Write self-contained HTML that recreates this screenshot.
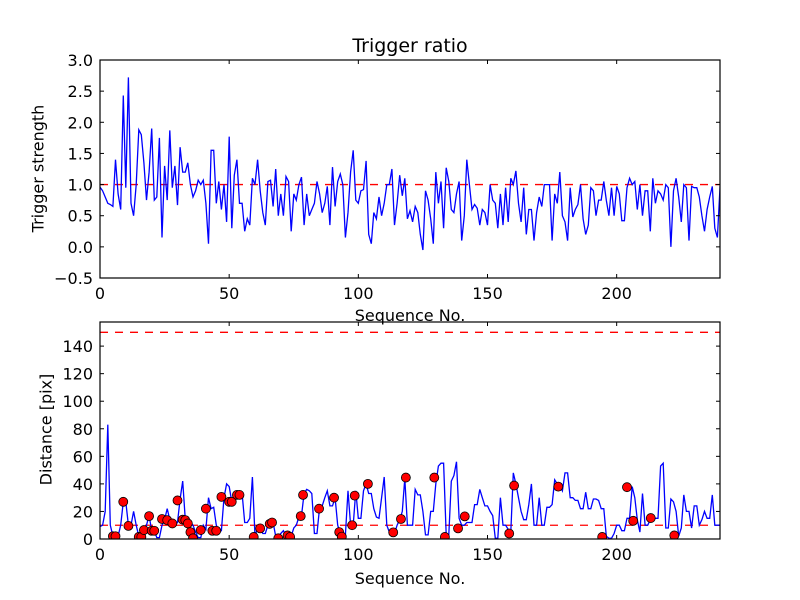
<!DOCTYPE html>
<html><head><meta charset="utf-8"><style>
body{margin:0;background:#fff;}
svg{display:block;font-family:"DejaVu Sans","Liberation Sans",sans-serif;}
</style></head><body>
<svg id="chart" width="800" height="600"></svg>
<script>
const topValues=[0.96,0.9,0.8,0.7,0.68,0.65,1.4,0.85,0.6,2.43,0.95,2.72,0.7,0.5,1.0,1.88,1.8,1.35,0.75,1.2,1.9,0.75,0.8,1.75,0.15,1.3,0.75,1.87,0.95,1.3,0.67,1.6,1.2,1.2,1.35,1.0,0.8,0.9,1.07,1.0,1.07,0.7,0.05,1.55,1.55,0.7,1.05,0.6,1.0,0.4,1.77,0.3,1.15,1.4,0.7,0.7,0.25,0.45,0.35,1.1,1.0,1.4,
0.9,0.55,0.35,1.05,1.07,0.65,1.25,0.5,0.85,0.5,1.13,1.05,0.25,0.85,0.75,1.0,1.12,0.35,0.85,0.5,0.6,0.7,1.05,0.85,0.55,0.7,0.97,0.35,1.28,0.65,1.05,1.17,1.0,0.15,0.55,1.2,1.55,0.75,0.7,0.9,0.92,1.38,0.2,0.05,0.55,0.45,0.8,0.5,0.7,1.0,1.0,1.25,0.35,0.7,1.15,0.82,1.1,0.45,0.58,0.4,
0.65,0.55,0.2,-0.05,0.9,0.75,0.45,0.05,1.2,0.7,1.05,0.3,1.27,1.05,0.6,0.55,0.85,1.05,0.1,0.5,1.4,1.0,0.6,0.68,0.62,0.35,0.6,0.55,0.35,1.0,0.75,0.7,0.3,0.85,0.35,0.95,0.4,1.1,1.0,1.22,0.7,0.4,0.95,0.2,0.6,0.6,0.1,0.55,0.8,0.65,1.0,1.0,1.0,0.1,0.85,0.7,1.2,0.5,0.4,0.1,0.95,
0.48,0.6,0.68,1.0,0.45,0.2,0.35,0.95,0.9,0.5,0.75,0.75,1.05,0.75,0.5,0.95,0.5,0.97,0.85,0.42,0.42,0.95,1.1,1.0,1.05,0.6,1.0,0.5,0.9,0.9,0.25,1.1,0.7,0.9,0.85,0.75,1.0,0.95,0.0,0.9,1.1,0.8,0.4,1.0,0.95,0.1,0.97,0.95,0.95,0.8,0.5,0.25,0.6,0.8,0.97,0.3,0.15,0.95,0.9];
const distValues=[9,10,20,83,10,2,2,2,10,27,27,10,10,20,10,2,2,5,10,17,6,6,1,1,10,14,22,14,10,10,12,29,42,14,14,12,10,5,1,1,10,7,30,22,23,10,6,6,30,40,38,27,27,33,33,33,12,12,15,45,
2,8,8,4,4,10,12,12,2,2,4,6,2,2,2,8,10,16,17,33,36,35,33,4,4,23,24,30,35,24,24,30,10,4,2,3,35,10,10,35,15,15,35,40,33,33,22,16,15,30,45,10,5,4,4,10,14,20,44,
10,10,10,36,32,32,20,3,3,20,20,40,53,55,55,3,3,42,46,56,15,10,10,12,12,12,25,25,36,30,24,24,20,17,0.5,0.5,30,10,10,7,5,48,40,30,20,14,14,25,40,10,10,30,10,10,23,23,25,43,40,39,35,48,48,30,30,
28,28,22,22,34,22,22,29,29,28,22,22,2,0.5,0.5,4,10,10,6,6,15,15,38,30,14,5,33,10,10,14,14,15,15,53,55,8,8,29,27,20,2,8,32,20,20,8,24,24,10,14,20,15,15,32,10,10,10,10];
const markerX=[5,6,9,11,15,16,17,19,20,21,24,26,28,30,32,33,34,35,36,39,41,43.5,45,47,50,51,53,54,59.5,62,65.7,66.6,69,72.6,73.6,77.7,78.6,84.8,90.6,92.6,93.6,97.6,98.6,103.7,113.5,116.5,118.4,129.4,133.5,138.6,141.2,158.4,160.3,177.4,194.4,204,206.4,213.2,222.3];
const markerY=[2,2,27,9.5,1.5,1.5,6.5,16.6,6,6,14.5,13.7,11.3,28,14,13.7,11.3,5,0.5,6.5,22,6,6,30.6,27,27,32,32,1.5,7.7,11,12,0.5,2.6,1.5,16.6,32,22,30,5,1.7,10,31.5,40,4.8,14.5,44.6,44.6,1.5,7.7,16.4,4,38.8,38,1.5,37.6,13.2,15.2,2.6];
const xTicks=[0,50,100,150,200];
const topYTicks=[-0.5,0.0,0.5,1.0,1.5,2.0,2.5,3.0];
const botYTicks=[0,20,40,60,80,100,120,140];
const topThreshold=[1.0];
const botThresholds=[10,150];

const NS="http://www.w3.org/2000/svg";
const svg=document.getElementById('chart');
function mk(tag,attrs,parent){const e=document.createElementNS(NS,tag);for(const k in attrs)e.setAttribute(k,attrs[k]);(parent||svg).appendChild(e);return e;}
const L=100,R=720;
const xs=v=>L+(v-0)/(240-0)*(R-L);
function panel(top,bot,ymin,ymax,name){
  const ys=v=>bot-(v-ymin)/(ymax-ymin)*(bot-top);
  const g=mk('g',{});
  
  
  const cid='clip-'+name;
  const cp=mk('clipPath',{id:cid},g);mk('rect',{x:L,y:top,width:R-L,height:bot-top},cp);
  return {g,ys,cid,top,bot};
}
function axes(p,yTicks,fmt,name){
  const g=mk('g',{},p.g);
  
  
  xTicks.forEach(t=>{const x=xs(t);
    mk('line',{x1:x,x2:x,y1:p.bot,y2:p.bot-4,stroke:'#000','stroke-width':1},g);
    mk('line',{x1:x,x2:x,y1:p.top,y2:p.top+4,stroke:'#000','stroke-width':1},g);
    const tx=mk('text',{x:x,y:p.bot+21,'text-anchor':'middle','font-size':16},g);tx.textContent=t;
    
    
  });
  yTicks.forEach(t=>{const y=p.ys(t);
    mk('line',{x1:L,x2:L+4,y1:y,y2:y,stroke:'#000'},g);
    mk('line',{x1:R,x2:R-4,y1:y,y2:y,stroke:'#000'},g);
    const tx=mk('text',{x:L-7,y:y+6,'text-anchor':'end','font-size':16},g);tx.textContent=fmt(t);
    
    
  });
  mk('rect',{x:L,y:p.top,width:R-L,height:p.bot-p.top,fill:'none',stroke:'#000','stroke-width':1.2},g);
}
function line(p,vals,name){
  const d=vals.map((v,i)=>(i?'L':'M')+xs(i).toFixed(1)+' '+p.ys(v).toFixed(1)).join(' ');
  const e=mk('path',{d,fill:'none',stroke:'#0000ff','stroke-width':1.3,'clip-path':'url(#'+p.cid+')'},p.g);
  
  
}
function hline(p,v,name){
  const e=mk('line',{x1:L,x2:R,y1:p.ys(v),y2:p.ys(v),stroke:'#ff0000','stroke-width':1.3,'stroke-dasharray':'8,7'},p.g);
  
  
}
const p1=panel(60,278,-0.5,3.0,'trigger-panel');
topThreshold.forEach(v=>hline(p1,v,'trigger-threshold'));
line(p1,topValues,'trigger-strength-line');
axes(p1,topYTicks,t=>t.toFixed(1).replace('-','\u2212'),'trigger');
const p2=panel(322,539,0,157.5,'distance-panel');
botThresholds.forEach(v=>hline(p2,v,'distance-threshold'));
line(p2,distValues,'distance-line');
const mg=mk('g',{'clip-path':'url(#'+p2.cid+')'},p2.g);


markerX.forEach((x,i)=>{const c=mk('circle',{cx:xs(x),cy:p2.ys(markerY[i]),r:4.5,fill:'#ff0000',stroke:'#000','stroke-width':0.8},mg);
  
  
});
axes(p2,botYTicks,t=>String(t),'distance');
</script>
<div style="position:absolute;left:0;top:0;width:800px;height:600px;pointer-events:none;font-family:'DejaVu Sans','Liberation Sans',sans-serif;">
  <div style="position:absolute;left:310px;top:35px;width:200px;text-align:center;font-size:19px;">Trigger ratio</div>
  <div style="position:absolute;left:310px;top:306px;width:200px;text-align:center;font-size:16px;">Sequence No.</div>
  <div style="position:absolute;left:310px;top:569px;width:200px;text-align:center;font-size:16px;">Sequence No.</div>
  <div style="position:absolute;left:-62px;top:159px;width:200px;text-align:center;font-size:16px;transform:rotate(-90deg);">Trigger strength</div>
  <div style="position:absolute;left:-54px;top:420px;width:200px;text-align:center;font-size:16px;transform:rotate(-90deg);">Distance [pix]</div>
</div>
</body></html>
